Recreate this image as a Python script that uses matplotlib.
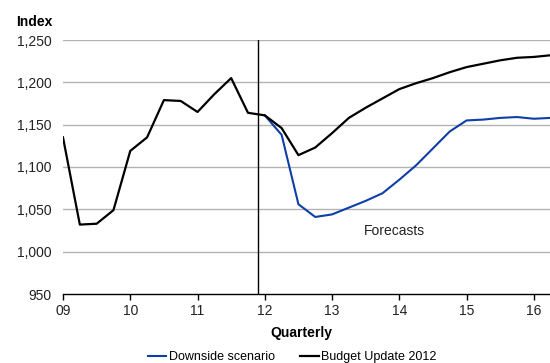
import numpy as np
import matplotlib
matplotlib.use("Agg")
import matplotlib.pyplot as plt

plt.rcParams['font.family'] = ['Liberation Sans', 'DejaVu Sans']

# Quarterly index, 2009Q1 .. 2016Q2 (x in years, 09 = 2009)
years = 9 + np.arange(30) * 0.25

budget_update = [1135, 1032, 1033, 1049, 1119, 1135, 1179, 1178, 1165, 1186,
                 1205, 1164, 1161, 1146, 1114, 1123, 1140, 1158, 1170, 1181,
                 1192, 1199, 1205, 1212, 1218, 1222, 1226, 1229, 1230, 1232]

downside = [np.nan] * 12 + [1161, 1138, 1056, 1041, 1044, 1052, 1060, 1069,
                            1085, 1102, 1122, 1142, 1155, 1156, 1158, 1159,
                            1157, 1158]

year_ticks = [9, 10, 11, 12, 13, 14, 15, 16]
year_labels = ["09", "10", "11", "12", "13", "14", "15", "16"]
y_ticks = [950, 1000, 1050, 1100, 1150, 1200, 1250]
forecast_start = 11.9

fig = plt.figure(figsize=(5.5, 3.63), dpi=100)
ax = fig.add_axes([63 / 550, 1 - 294 / 363, (550 - 63) / 550, (294 - 40) / 363])

for y in y_ticks[1:]:
    ax.axhline(y, color="#b3b3b3", lw=1.0, zorder=1)

ax.plot(years, downside, color="#0d3fa6", lw=1.5, zorder=3,
        label="Downside scenario")
ax.plot(years, budget_update, color="#000000", lw=1.6, zorder=4,
        label="Budget Update 2012")

ax.axvline(forecast_start, color="black", lw=1.0, zorder=2)
ax.text(13.92, 1024, "Forecasts", fontsize=10, ha="center", va="center",
        color="#222222")

ax.set_xlim(9, 16.24)
ax.set_ylim(950, 1250)
ax.set_xticks(year_ticks)
ax.set_xticklabels(year_labels)
ax.set_yticks(y_ticks)
ax.set_yticklabels([f"{v:,}" for v in y_ticks])

for side in ("left", "right", "top"):
    ax.spines[side].set_visible(False)
ax.spines["bottom"].set_color("black")
ax.spines["bottom"].set_linewidth(1.0)

ax.tick_params(axis="x", direction="out", length=4, width=1, color="black",
               labelsize=10, labelcolor="#222222", pad=3)
ax.tick_params(axis="y", length=0, labelsize=10, labelcolor="#222222", pad=8)

ax.set_xlabel("Quarterly", fontsize=10, fontweight="bold")
ax.xaxis.set_label_coords((301 - 63) / 487, -(333 - 294) / 254)
ax.xaxis.label.set_va("center")
fig.text(16 / 550, 1 - 22 / 363, "Index", fontsize=10, fontweight="bold",
         ha="left", va="center")

fig.legend(loc="center", bbox_to_anchor=(292 / 550, 1 - 357 / 363), ncol=2,
           frameon=False, fontsize=9, handlelength=1.5, handletextpad=0.2,
           columnspacing=2.0)

fig.savefig("out.png", dpi=100)
